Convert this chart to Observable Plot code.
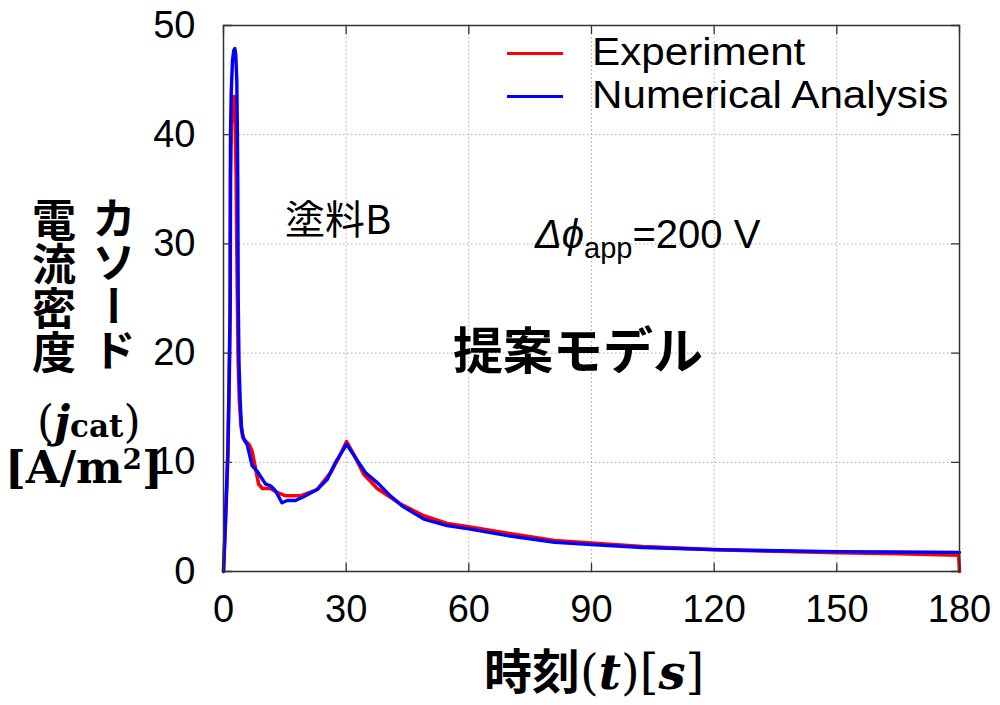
<!DOCTYPE html>
<html><head><meta charset="utf-8">
<script src="https://cdn.jsdelivr.net/npm/d3@7"></script>
<script src="https://cdn.jsdelivr.net/npm/@observablehq/plot@0.6"></script>
<style>
body{margin:0;background:#fff;}
#wrap{position:relative;width:1000px;height:705px;overflow:hidden;font-family:"Liberation Sans",Arial,sans-serif;background:#fff;}
#wrap svg{position:absolute;left:0;top:0;}
.ov{position:absolute;white-space:nowrap;line-height:1;color:#000;}
.jp{font-family:"Noto Sans CJK JP",sans-serif;}
.vert{writing-mode:vertical-rl;}
.serif{font-family:"DejaVu Serif",serif;font-weight:bold;}
.thin{font-weight:normal;}
.leg{position:absolute;height:3px;width:56px;}
</style></head><body><div id="wrap"></div>
<script>
// ---- data ----
const seriesNames = ["Experiment", "Numerical Analysis"];
const seriesColors = ["#ff0000", "#0000ff"];
const xTicks = [0, 30, 60, 90, 120, 150, 180];
const yTicks = [0, 10, 20, 30, 40, 50];

const expT = [0,0.5,1.06,1.4,1.63,1.72,1.95,2.3,2.6,2.9,3.1,3.25,3.4,3.6,3.9,4.3,4.7,5.2,5.8,6.3,7.0,7.8,8.6,9.5,11.5,13.1,15.2,18.8,22.9,26.2,28.3,30.1,31.9,34.3,37.6,40.8,43.7,49,54.7,60,69.5,81,90,102.5,120,135,150,165,179.8,180];
const expV = [0,4.5,10.5,17.5,24,36,41,43,43.5,41,36,30,25,19,15.5,13.3,12.3,12.0,11.8,11.6,11.0,9.5,8.0,7.6,7.6,7.24,6.93,6.93,7.5,9.06,10.5,11.9,10.7,8.9,7.6,6.8,6.1,5.1,4.4,4.1,3.5,2.83,2.6,2.28,2.0,1.85,1.73,1.62,1.5,0];

const numT = [0,0.5,1.06,1.4,1.63,1.7,1.9,2.2,2.5,2.77,3.0,3.25,3.4,3.5,3.6,3.8,4.1,4.4,4.7,5.0,5.8,7.0,8.2,10.3,11.5,12.7,14.3,15.6,17.6,19.6,22.9,25.4,27.4,30.1,32.3,34.7,38,40.8,43.7,49,54.7,60,69.5,81,90,102.5,120,136,150,165,180];
const numV = [0,5,11,18,24.7,40,44,46.8,47.7,47.9,47.3,45,40,35,25,19,15.5,13.2,12.5,12.1,11.6,9.7,9.2,8.0,7.85,7.4,6.3,6.5,6.5,6.85,7.5,8.45,10.0,11.65,10.4,9.06,8.0,6.93,6.0,4.8,4.2,3.9,3.28,2.68,2.46,2.2,2.0,1.9,1.82,1.78,1.75];

// ---- build ----
const expData = expT.map((t, i) => ({t, v: expV[i]}));
const numData = numT.map((t, i) => ({t, v: numV[i]}));

const tickShape = {draw(context, l) { context.moveTo(0, 0); context.lineTo(0, -l); }};
const tickStyle = {length: 8, anchor: "start", shape: tickShape, stroke: "#333", strokeWidth: 1.3};

const chart = Plot.plot({
  width: 1000, height: 705,
  marginLeft: 223, marginRight: 41, marginTop: 25, marginBottom: 134,
  style: {fontFamily: '"Liberation Sans", Arial, sans-serif', background: "white", color: "#000"},
  x: {domain: [0, 180]},
  y: {domain: [0, 50]},
  marks: [
    Plot.gridX(xTicks, {stroke: "#aaa", strokeOpacity: 1, strokeDasharray: "1.5,2.5", strokeWidth: 1}),
    Plot.gridY(yTicks, {stroke: "#aaa", strokeOpacity: 1, strokeDasharray: "1.5,2.5", strokeWidth: 1}),
    Plot.axisX(xTicks, {tickSize: 0, tickPadding: 24, fontSize: 38, label: null}),
    Plot.axisY(yTicks, {tickSize: 0, tickPadding: 28, fontSize: 38, label: null}),
    Plot.line(expData, {x: "t", y: "v", stroke: seriesColors[0], strokeWidth: 3.6, strokeLinejoin: "round"}),
    Plot.line(numData, {x: "t", y: "v", stroke: seriesColors[1], strokeWidth: 3.4, strokeLinejoin: "round"}),
    Plot.frame({stroke: "#333", strokeWidth: 1.5}),
    Plot.vector(xTicks, {x: d => d, frameAnchor: "bottom", rotate: 0, ...tickStyle}),
    Plot.vector(xTicks, {x: d => d, frameAnchor: "top", rotate: 180, ...tickStyle}),
    Plot.vector(yTicks, {y: d => d, frameAnchor: "left", rotate: 90, ...tickStyle}),
    Plot.vector(yTicks, {y: d => d, frameAnchor: "right", rotate: -90, ...tickStyle})
  ]
});

const wrap = document.getElementById("wrap");
wrap.appendChild(chart);

function addDiv(html, cls, style) {
  const d = document.createElement("div");
  d.className = "ov " + cls;
  d.innerHTML = html;
  Object.assign(d.style, style);
  wrap.appendChild(d);
  return d;
}

// y axis label
addDiv("電流密度", "jp vert", {left: "32px", top: "198px", fontSize: "44px", fontWeight: "bold"});
addDiv("カソード", "jp vert", {left: "92px", top: "196px", fontSize: "44px", fontWeight: "bold"});
addDiv('<span class="thin">(</span><i>j</i><span style="font-size:31px">cat</span><span class="thin">)</span>', "serif", {left: "37px", top: "400px", fontSize: "44px"});
addDiv('[A/m<sup style="font-size:28px;vertical-align:14px">2</sup>]', "serif", {left: "5px", top: "446px", fontSize: "44px"});

// x axis label
addDiv('<span class="jp" style="font-weight:bold">時刻</span><span class="serif"><span class="thin">(</span><i>t</i><span class="thin">)[</span><i>s</i><span class="thin">]</span></span>', "", {left: "484px", top: "644px", fontSize: "48px"});

// annotations
addDiv("塗料B", "jp", {left: "285px", top: "197px", fontSize: "40px"});
addDiv('<i>Δϕ</i><span style="font-size:29px;position:relative;top:10px">app</span>=200 V', "", {left: "535px", top: "214px", fontSize: "40px", fontFamily: '"Liberation Sans", Arial, sans-serif'});
addDiv("提案モデル", "jp", {left: "453px", top: "322px", fontSize: "50px", fontWeight: "bold"});

// legend
seriesNames.forEach((name, i) => {
  const yc = [53, 96][i];
  const ln = document.createElement("div");
  ln.className = "leg";
  Object.assign(ln.style, {left: "507px", top: (yc - 1.5) + "px", background: seriesColors[i]});
  wrap.appendChild(ln);
  addDiv(name, "", {left: "592px", top: (yc - 20) + "px", fontSize: "38px", transform: "scaleX(1.11)", transformOrigin: "left center"});
});
</script>
</body></html>
